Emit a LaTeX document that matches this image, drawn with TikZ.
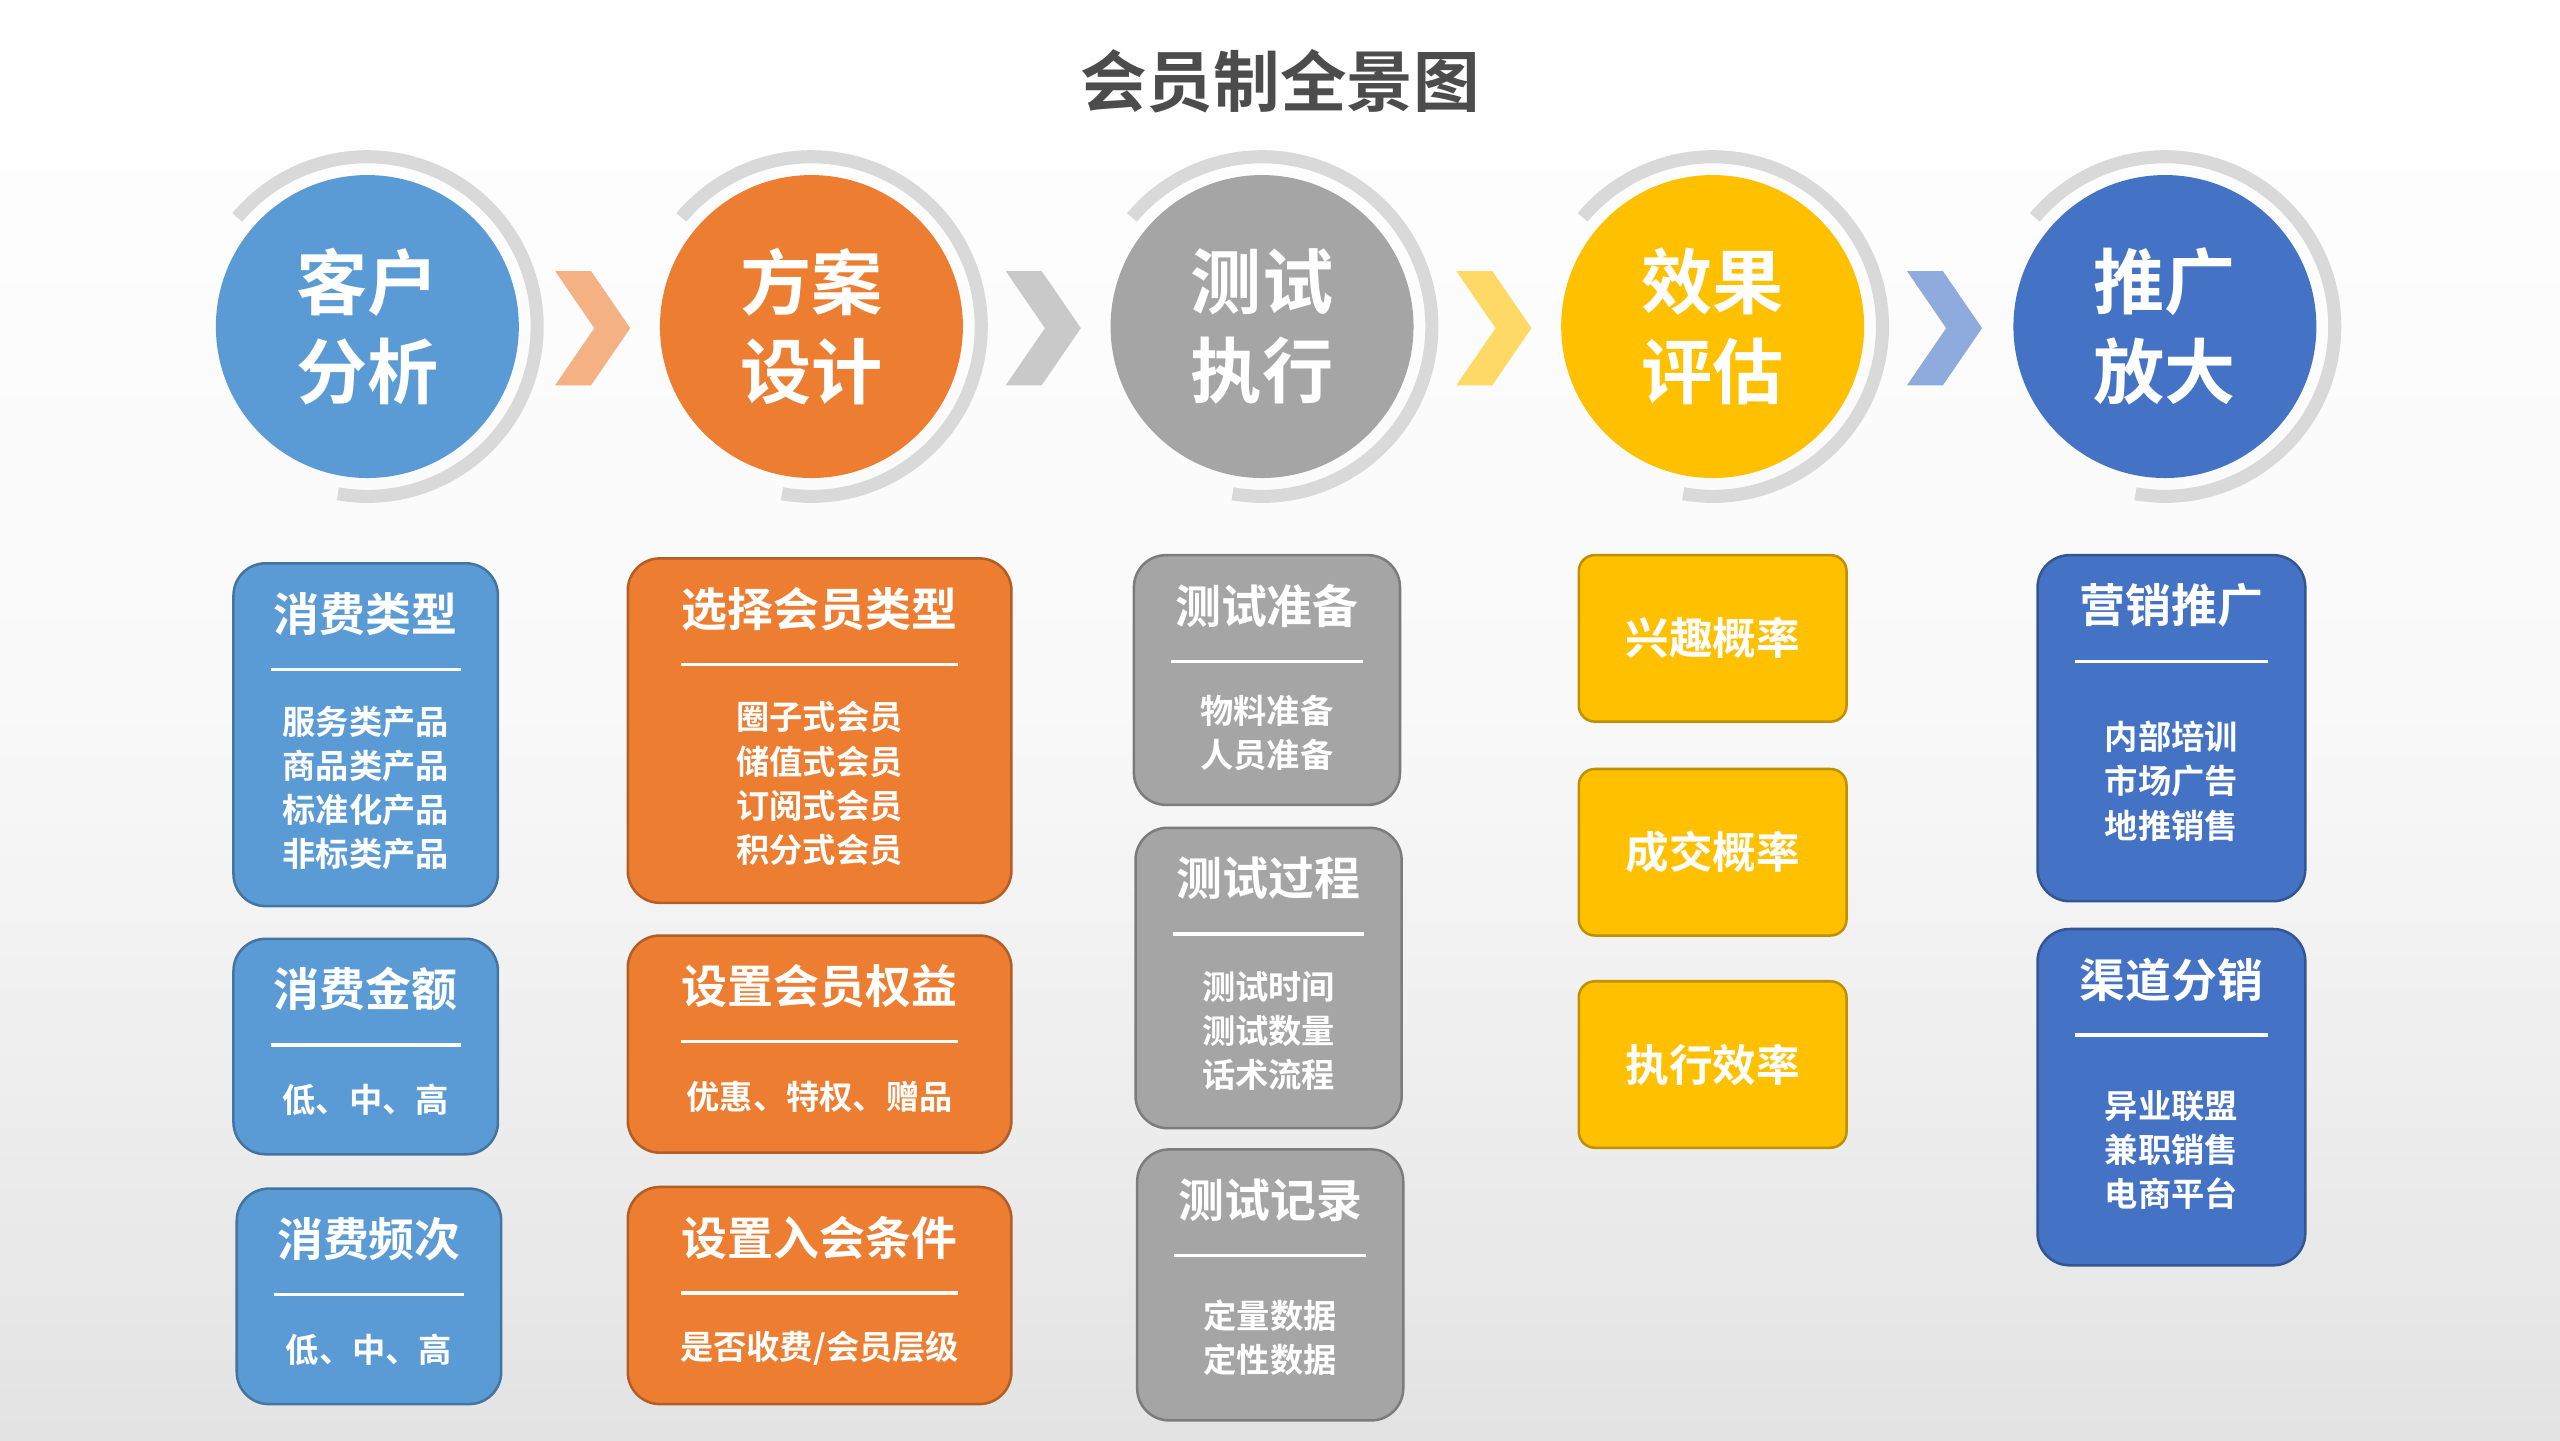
\documentclass[tikz,border=0pt]{standalone}
\usepackage{fontspec}
\setmainfont{Noto Sans CJK SC}[BoldFont={Noto Sans CJK SC Bold}]
\begin{document}
\begin{tikzpicture}[x=0.05cm,y=-0.05cm]
\definecolor{cblue}{HTML}{5B9BD5}\definecolor{corange}{HTML}{ED7D31}
\definecolor{cgray}{HTML}{A5A5A5}\definecolor{cyellow}{HTML}{FFC000}
\definecolor{cdblue}{HTML}{4472C4}
\tikzset{
 circ/.style={circle,minimum size=186\pgflinewidth,inner sep=0,text=white,font=\fontsize{62}{78}\selectfont\bfseries,align=center},
 ring/.style={line width=11.4pt,draw=gray!30},
 chev/.style={fill=#1},
 bx/.style={draw=#1!75!black,fill=#1,line width=2.2pt,rounded corners=28pt,inner sep=0},
 hdr/.style={text=white,font=\fontsize{40}{48}\selectfont\bfseries},
 bdy/.style={text=white,font=\fontsize{29}{38.5}\selectfont\bfseries,align=center},
 sep/.style={draw=white,line width=3pt}
}
\shade[top color=white,bottom color=gray!22,middle color=white!95!gray] (0,0) rectangle (1568,882);
\useasboundingbox (0,0) rectangle (1568,882);
\node[font=\fontsize{58}{60}\selectfont\bfseries,text=black!70] (title) at (784,50) {会员制全景图};
% circles
\foreach \n/\x/\c/\t in {c1/225/cblue/客户\\分析,c2/497/corange/方案\\设计,c3/773/cgray/测试\\执行,c4/1049/cyellow/效果\\评估,c5/1326/cdblue/推广\\放大}{
 \draw[ring] (\x,200) ++(100:104) arc[start angle=100,end angle=-140,radius=104];
 \node[circle,fill=\c,minimum size=264pt,inner sep=0,text=white,font=\fontsize{62}{78}\selectfont\bfseries,align=center] (\n) at (\x,200) {\t};
}
% chevrons
\foreach \x/\c in {362/F4B183,638/C9C9C9,914/FFD966,1190/8FAADC}{
 \definecolor{tmp}{HTML}{\c}
 \fill[tmp] (\x-22,166) -- (\x,166) -- (\x+24,201) -- (\x,236) -- (\x-22,236) -- (\x+2,201) -- cycle;
}
\newcommand\mybox[8]{%
 \pgfmathsetmacro\hh{#4-#3}\pgfmathsetmacro\ww{#5}%
 \pgfmathsetmacro\cy{(#3+#4)/2}\pgfmathsetmacro\by{(#3+65+#4)/2}%
 \node[bx=#6,minimum width=\ww*1.4226pt,minimum height=\hh*1.4226pt] (#1) at (#2,\cy) {};
 \node[hdr] (#1h) at (#2,#3+31) {#7};
 \draw[sep] (#2-#5*0.36,#3+65) -- (#2+#5*0.36,#3+65);
 \node[bdy] (#1b) at (#2,\by) {#8};
}
\mybox{a1}{224}{345}{555}{162}{cblue}{消费类型}{服务类产品\\商品类产品\\标准化产品\\非标类产品}
\mybox{a2}{224}{575}{707}{162}{cblue}{消费金额}{低、中、高}
\mybox{a3}{226}{728}{860}{162}{cblue}{消费频次}{低、中、高}
\mybox{b1}{502}{342}{553}{235}{corange}{选择会员类型}{圈子式会员\\储值式会员\\订阅式会员\\积分式会员}
\mybox{b2}{502}{573}{706}{235}{corange}{设置会员权益}{优惠、特权、赠品}
\mybox{b3}{502}{727}{860}{235}{corange}{设置入会条件}{是否收费/会员层级}
\mybox{d1}{776}{340}{493}{163}{cgray}{测试准备}{物料准备\\人员准备}
\mybox{d2}{777}{507}{691}{163}{cgray}{测试过程}{测试时间\\测试数量\\话术流程}
\mybox{d3}{778}{704}{870}{163}{cgray}{测试记录}{定量数据\\定性数据}
\foreach \n/\y/\t in {e1/391/兴趣概率,e2/522/成交概率,e3/652/执行效率}{
 \node[bx=cyellow,rounded corners=14pt,minimum width=164*1.4226pt,minimum height=102*1.4226pt,hdr,font=\fontsize{38}{46}\selectfont\bfseries] (\n) at (1049,\y) {\t};
}
\mybox{f1}{1330}{340}{552}{164}{cdblue}{营销推广}{内部培训\\市场广告\\地推销售}
\mybox{f2}{1330}{569}{775}{164}{cdblue}{渠道分销}{异业联盟\\兼职销售\\电商平台}
\end{tikzpicture}
\end{document}
